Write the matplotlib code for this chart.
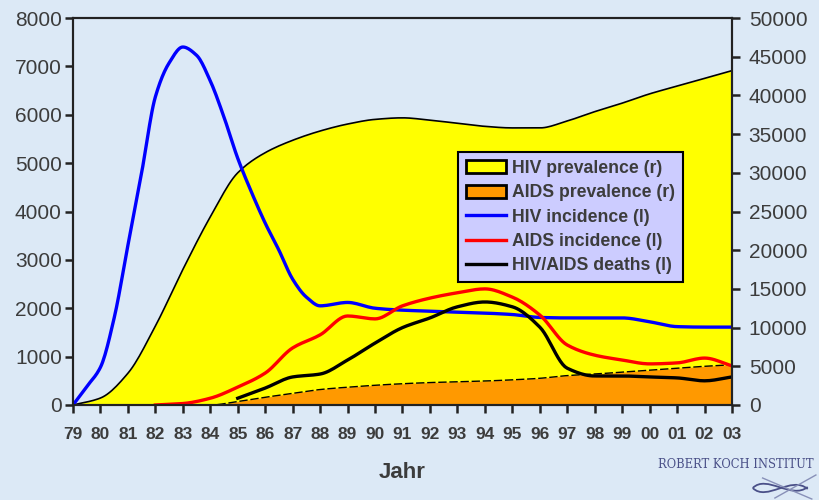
import matplotlib
matplotlib.use('Agg')
import matplotlib.pyplot as plt
from matplotlib.patches import Patch, PathPatch
from matplotlib.lines import Line2D
from matplotlib.path import Path
import numpy as np

# ---------------- data ----------------
years = list(range(1979, 2004))
tick_labels = ['79', '80', '81', '82', '83', '84', '85', '86', '87', '88', '89', '90',
               '91', '92', '93', '94', '95', '96', '97', '98', '99', '00', '01', '02', '03']

# right axis (prevalence)
hiv_prevalence = [0, 900, 4100, 10200, 17500, 24300, 30000, 32600, 34200, 35400, 36300,
                  36900, 37100, 36800, 36400, 36000, 35800, 35800, 36700, 37900, 39000,
                  40200, 41200, 42200, 43200]
aids_prevalence = [0, 0, 0, 0, 0, 0, 450, 1000, 1500, 2000, 2300, 2550, 2750, 2900, 3000,
                   3100, 3250, 3450, 3800, 4000, 4250, 4500, 4750, 5000, 5200]

# left axis (incidence / deaths)
hiv_incidence_years = [1979, 1979.5, 1980, 1980.5, 1981, 1981.5, 1982, 1982.5, 1983,
                       1983.5, 1984, 1984.5, 1985, 1985.5, 1986, 1986.5, 1987, 1987.5,
                       1988, 1989, 1990, 1991, 1992, 1993, 1994, 1995, 1996, 1997, 1998,
                       1999, 2000, 2001, 2002, 2003]
hiv_incidence = [0, 380, 780, 1800, 3300, 4800, 6370, 7070, 7400, 7230, 6700, 5950, 5100,
                 4400, 3760, 3200, 2600, 2230, 2050, 2120, 2000, 1960, 1940, 1920, 1900,
                 1870, 1810, 1800, 1800, 1800, 1720, 1620, 1610, 1610]
nan = float('nan')
aids_incidence = [nan, nan, nan, 0, 30, 140, 370, 660, 1180, 1450, 1840, 1780, 2050, 2210,
                  2320, 2400, 2230, 1860, 1240, 1030, 930, 850, 870, 970, 810]
deaths = [nan, nan, nan, nan, nan, nan, 140, 350, 580, 640, 930, 1280, 1600, 1800, 2030,
          2130, 2030, 1610, 760, 600, 600, 580, 560, 500, 580]

legend_labels = ['HIV prevalence (r)', 'AIDS prevalence (r)', 'HIV incidence (l)',
                 'AIDS incidence (l)', 'HIV/AIDS deaths (l)']


# smoothed rendering (monotone cubic, like a spreadsheet "smoothed line")
def smooth(x, y, n=12):
    x = np.asarray(x, float)
    y = np.asarray(y, float)
    ok = ~np.isnan(y)
    x, y = x[ok], y[ok]
    h = np.diff(x)
    dl = np.diff(y) / h
    d = np.zeros_like(y)
    for k in range(1, len(y) - 1):
        if dl[k - 1] * dl[k] > 0:
            w1 = 2 * h[k] + h[k - 1]
            w2 = h[k] + 2 * h[k - 1]
            d[k] = (w1 + w2) / (w1 / dl[k - 1] + w2 / dl[k])
    d[0] = dl[0]
    d[-1] = dl[-1]
    xs, ys = [], []
    for k in range(len(h)):
        t = np.linspace(0, 1, n, endpoint=(k == len(h) - 1))
        h00 = 2 * t**3 - 3 * t**2 + 1
        h10 = t**3 - 2 * t**2 + t
        h01 = -2 * t**3 + 3 * t**2
        h11 = t**3 - t**2
        xs.append(x[k] + t * h[k])
        ys.append(h00 * y[k] + h10 * h[k] * d[k] + h01 * y[k + 1] + h11 * h[k] * d[k + 1])
    return np.concatenate(xs), np.concatenate(ys)


# ---------------- style ----------------
BG = '#dce9f6'
TXT = '#3c3c3c'
plt.rcParams['font.family'] = ['Liberation Sans', 'DejaVu Sans']

fig = plt.figure(figsize=(8.2, 5.0), dpi=100, facecolor=BG)
ax = fig.add_axes([0.089, 0.19, 0.8037, 0.774])
ax2 = ax.twinx()
ax.set_zorder(ax2.get_zorder() + 1)
ax.patch.set_visible(False)
ax2.patch.set_facecolor(BG)

# fills on right axis
sx, sy = smooth(years, hiv_prevalence)
ax2.fill_between(sx, sy, 0, color='#ffff00', linewidth=0)
ax2.plot(sx, sy, color='black', lw=1.2)
sx, sy = smooth(years, aids_prevalence)
ax2.fill_between(sx, sy, 0, color='#ff9900', linewidth=0)
ax2.plot(sx, sy, color='black', lw=1.0, dashes=(6, 2))

# lines on left axis
sx, sy = smooth(hiv_incidence_years, hiv_incidence)
ax.plot(sx, sy, color='#0000ff', lw=2.4)
sx, sy = smooth(years, aids_incidence)
ax.plot(sx, sy, color='#ff0000', lw=2.4)
sx, sy = smooth(years, deaths)
ax.plot(sx, sy, color='black', lw=2.4)

ax.set_xlim(1979, 2003)
ax.set_ylim(0, 8000)
ax2.set_ylim(0, 50000)
ax.set_xticks(years)
ax.set_xticklabels(tick_labels, fontsize=12.5, fontweight='bold', color=TXT)
ax.set_yticks(range(0, 8001, 1000))
ax.set_yticklabels([str(v) for v in range(0, 8001, 1000)], fontsize=15, color=TXT)
ax2.set_yticks(range(0, 50001, 5000))
ax2.set_yticklabels([str(v) for v in range(0, 50001, 5000)], fontsize=15, color=TXT)

for a in (ax, ax2):
    for s in a.spines.values():
        s.set_linewidth(1.5)
        s.set_color('#222222')
ax.tick_params(axis='x', length=6, width=1.8, pad=10, color='#222222')
ax.tick_params(axis='y', length=6, width=1.8, pad=2, color='#222222')
ax2.tick_params(axis='y', length=6, width=1.8, pad=6, color='#222222')

ax.set_xlabel('Jahr', fontsize=16, fontweight='bold', color=TXT, labelpad=14)

handles = [Patch(facecolor='#ffff00', edgecolor='black', linewidth=2),
           Patch(facecolor='#ff9900', edgecolor='black', linewidth=2),
           Line2D([], [], color='#0000ff', lw=2.4),
           Line2D([], [], color='#ff0000', lw=2.4),
           Line2D([], [], color='black', lw=2.4)]
leg = ax.legend(handles, legend_labels, loc='upper left', bbox_to_anchor=(0.584, 0.654),
                fancybox=False, framealpha=1, facecolor='#ccccff', edgecolor='black',
                prop={'weight': 'bold', 'size': 12.7}, handlelength=2.3, handleheight=0.75,
                labelspacing=0.42, borderpad=0.45, handletextpad=0.3, borderaxespad=0)
leg.get_frame().set_linewidth(1.5)
for t in leg.get_texts():
    t.set_color(TXT)

# logo text
fig.text(0.803, 0.071, 'ROBERT KOCH INSTITUT', fontsize=8.3, color='#4a5088',
         family=['DejaVu Serif'], ha='left', va='center')
# small logo drawing
codes = [Path.MOVETO, Path.CURVE4, Path.CURVE4, Path.CURVE4]
verts = [(0.918, 0.024), (0.935, 0.052), (0.965, 0.000), (0.985, 0.026)]
fig.add_artist(PathPatch(Path(verts, codes), fill=False, ec='#4a5088', lw=1.3,
                         transform=fig.transFigure))
verts = [(0.918, 0.024), (0.935, -0.004), (0.965, 0.050), (0.985, 0.022)]
fig.add_artist(PathPatch(Path(verts, codes), fill=False, ec='#4a5088', lw=1.3,
                         transform=fig.transFigure))
fig.add_artist(Line2D([0.945, 0.995], [0.004, 0.050], color='#8890b8', lw=1.0,
                      transform=fig.transFigure))
fig.add_artist(Line2D([0.93, 0.99], [0.044, 0.002], color='#8890b8', lw=1.0,
                      transform=fig.transFigure))

fig.savefig('out.png', dpi=100, facecolor=BG)
